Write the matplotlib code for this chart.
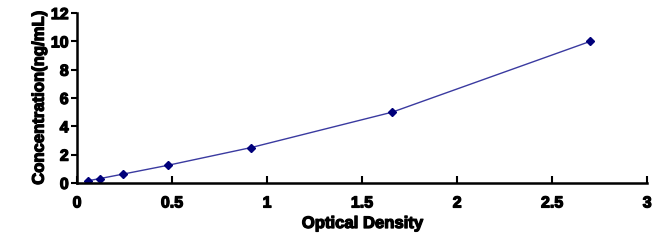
import matplotlib
matplotlib.use("Agg")
import matplotlib.pyplot as plt
import matplotlib.patheffects as pe

# Standard curve data
od = [0.058, 0.121, 0.242, 0.479, 0.916, 1.658, 2.700]
conc = [0.156, 0.312, 0.625, 1.25, 2.5, 5.0, 10.0]

x_ticks = [0, 0.5, 1, 1.5, 2, 2.5, 3]
x_tick_labels = ["0", "0.5", "1", "1.5", "2", "2.5", "3"]
y_ticks = [0, 2, 4, 6, 8, 10, 12]

plt.rcParams['font.family'] = ['Liberation Sans', 'DejaVu Sans']
plt.rcParams['font.weight'] = 'bold'
plt.rcParams['axes.labelweight'] = 'bold'

# bold face looks thin here, so thicken the glyphs a bit
heavy = [pe.withStroke(linewidth=0.9, foreground='black')]

fig = plt.figure(figsize=(6.7, 2.42), dpi=100)
ax = fig.add_axes([0.115, 0.244, 0.851, 0.702])

# Curve and points
ax.plot(od, conc, color='#3a3aa0', linewidth=1.0)
ax.plot(od, conc, linestyle='none', marker='D', markersize=4.5,
        color='#00007a')

ax.set_xlim(0, 3)
ax.set_ylim(0, 12)
ax.set_xticks(x_ticks)
ax.set_xticklabels(x_tick_labels)
ax.set_yticks(y_ticks)

for side in ['top', 'right']:
    ax.spines[side].set_visible(False)
for side in ['left', 'bottom']:
    ax.spines[side].set_linewidth(1.8)
    ax.spines[side].set_color('black')

ax.tick_params(axis='x', direction='in', length=5, width=1.5,
               labelsize=11.5, pad=9)
ax.tick_params(axis='y', direction='out', length=4, width=1.5,
               labelsize=11.5, pad=2)

ax.set_xlabel('Optical Density', fontsize=12, labelpad=4)
ax.set_ylabel('Concentration(ng/mL)', fontsize=12, labelpad=3)

for t in ax.get_xticklabels() + ax.get_yticklabels() + [ax.xaxis.label, ax.yaxis.label]:
    t.set_path_effects(heavy)

fig.savefig('out.png', dpi=100, facecolor='white')
